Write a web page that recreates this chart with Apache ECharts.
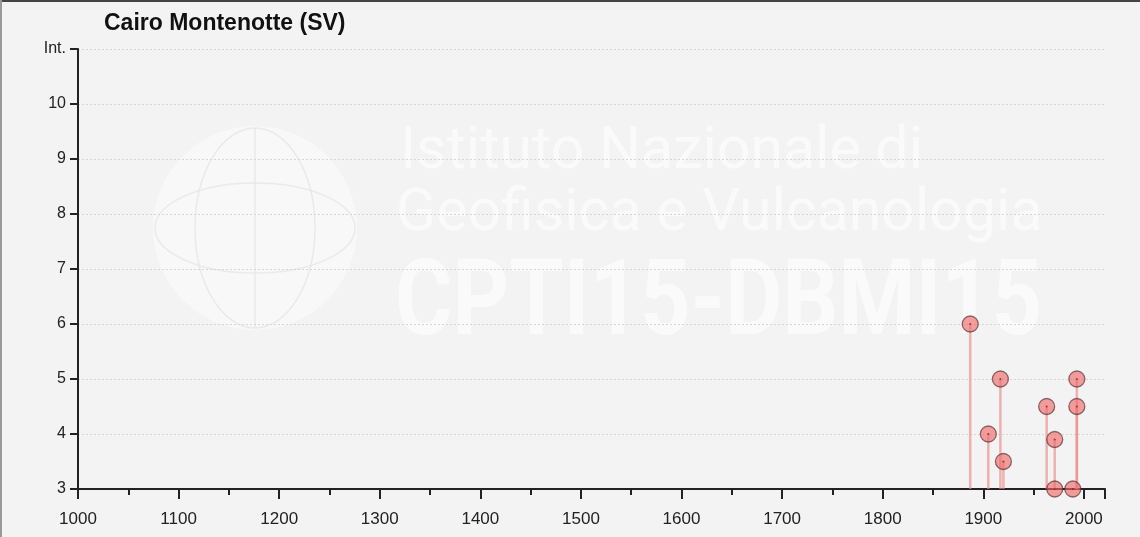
<!DOCTYPE html>
<html>
<head>
<meta charset="utf-8">
<script src="https://cdn.jsdelivr.net/npm/echarts@6/dist/echarts.min.js"></script>
<style>
  html, body { margin: 0; padding: 0; background: #f3f3f3; }
  #chart { width: 1140px; height: 537px; }
</style>
</head>
<body>
<div id="chart"></div>
<script>
// earthquake years and intensities felt at Cairo Montenotte
const years = [1887, 1905, 1917, 1920, 1963, 1971, 1971, 1989, 1993, 1993];
const intensities = [6, 4, 5, 3.5, 4.5, 3.9, 3, 3, 5, 4.5];
const yMin = 3;
const yMax = 11;
const xMin = 1000;
const xMax = 2021;

const points = years.map((y, i) => [y, intensities[i]]);

const chart = echarts.init(document.getElementById('chart'));

const wmColor = 'rgba(255,255,255,0.6)';
const globeLine = 'rgba(232,232,232,0.9)';

const option = {
    backgroundColor: '#f3f3f3',
    animation: false,
    textStyle: { fontFamily: 'Liberation Sans, Arial, sans-serif' },
    title: {
        text: 'Cairo Montenotte (SV)',
        left: 99,
        top: 7,
        textStyle: { fontSize: 23, fontWeight: 'bold', color: '#111' },
    },
    grid: { left: 78, right: 35, top: 49, bottom: 48 },
    graphic: [
        { type: 'line', shape: { x1: 0, y1: 1, x2: 1140, y2: 1 }, style: { stroke: '#444', lineWidth: 2 }, z: 100 },
        { type: 'line', shape: { x1: 1, y1: 0, x2: 1, y2: 537 }, style: { stroke: '#999', lineWidth: 2 }, z: 100 },
        // watermark globe
        { type: 'circle', shape: { cx: 255, cy: 228, r: 102 }, style: { fill: 'rgba(255,255,255,0.45)' }, z: -1 },
        { type: 'ellipse', shape: { cx: 255, cy: 228, rx: 60, ry: 100 }, style: { fill: null, stroke: globeLine, lineWidth: 1.5 }, z: -1 },
        { type: 'ellipse', shape: { cx: 255, cy: 228, rx: 100, ry: 45 }, style: { fill: null, stroke: globeLine, lineWidth: 1.5 }, z: -1 },
        { type: 'line', shape: { x1: 255, y1: 128, x2: 255, y2: 328 }, style: { stroke: globeLine, lineWidth: 1.5 }, z: -1 },
        // watermark text
        { type: 'text', left: 400, top: 124, style: { text: 'Istituto Nazionale di', fill: wmColor, font: '59px Roboto' }, z: -1 },
        { type: 'text', left: 396, top: 186, style: { text: 'Geofisica e Vulcanologia', fill: wmColor, font: '59px Roboto' }, z: -1 },
        { type: 'text', x: 395, y: 254, scaleX: 0.83, style: { text: 'CPTI15-DBMI15', fill: wmColor, font: 'bold 106px Roboto' }, z: -1 },
    ],
    xAxis: {
        type: 'value',
        min: xMin,
        max: xMax,
        interval: 100,
        axisLine: { show: true, lineStyle: { color: '#222', width: 2 } },
        axisTick: { show: true, length: 10, lineStyle: { color: '#222', width: 2 } },
        minorTick: { show: true, splitNumber: 2, length: 6, lineStyle: { color: '#222', width: 2 } },
        axisLabel: {
            color: '#222',
            fontSize: 17,
            margin: 22,
            showMaxLabel: false,
            formatter: v => (v % 100 === 0 ? String(v) : ''),
        },
        splitLine: { show: false },
    },
    yAxis: {
        type: 'value',
        min: yMin,
        max: yMax,
        interval: 1,
        axisLine: { show: true, lineStyle: { color: '#222', width: 2 } },
        axisTick: { show: true, length: 8, lineStyle: { color: '#222', width: 2 } },
        axisLabel: {
            color: '#222',
            fontSize: 16,
            margin: 12,
            formatter: v => (v === yMax ? 'Int.' : String(v)),
        },
        splitLine: {
            show: true,
            lineStyle: { color: '#d6d6d6', type: [2, 2], width: 1 },
        },
    },
    series: [
        {
            type: 'custom',
            data: points,
            renderItem: (params, api) => {
                const top = api.coord([api.value(0), api.value(1)]);
                const base = api.coord([api.value(0), yMin]);
                return {
                    type: 'line',
                    shape: { x1: top[0], y1: top[1], x2: base[0], y2: base[1] },
                    style: { stroke: 'rgba(235,140,140,0.65)', lineWidth: 2.5 },
                };
            },
            z: 2,
        },
        {
            type: 'scatter',
            data: points,
            symbolSize: 16,
            itemStyle: {
                color: 'rgba(240,105,105,0.8)',
                borderColor: 'rgba(80,40,40,0.8)',
                borderWidth: 1.3,
            },
            z: 3,
        },
        {
            type: 'scatter',
            data: points,
            symbolSize: 2,
            itemStyle: { color: '#8a2020' },
            z: 4,
        },
    ],
};

chart.setOption(option);
</script>
</body>
</html>
